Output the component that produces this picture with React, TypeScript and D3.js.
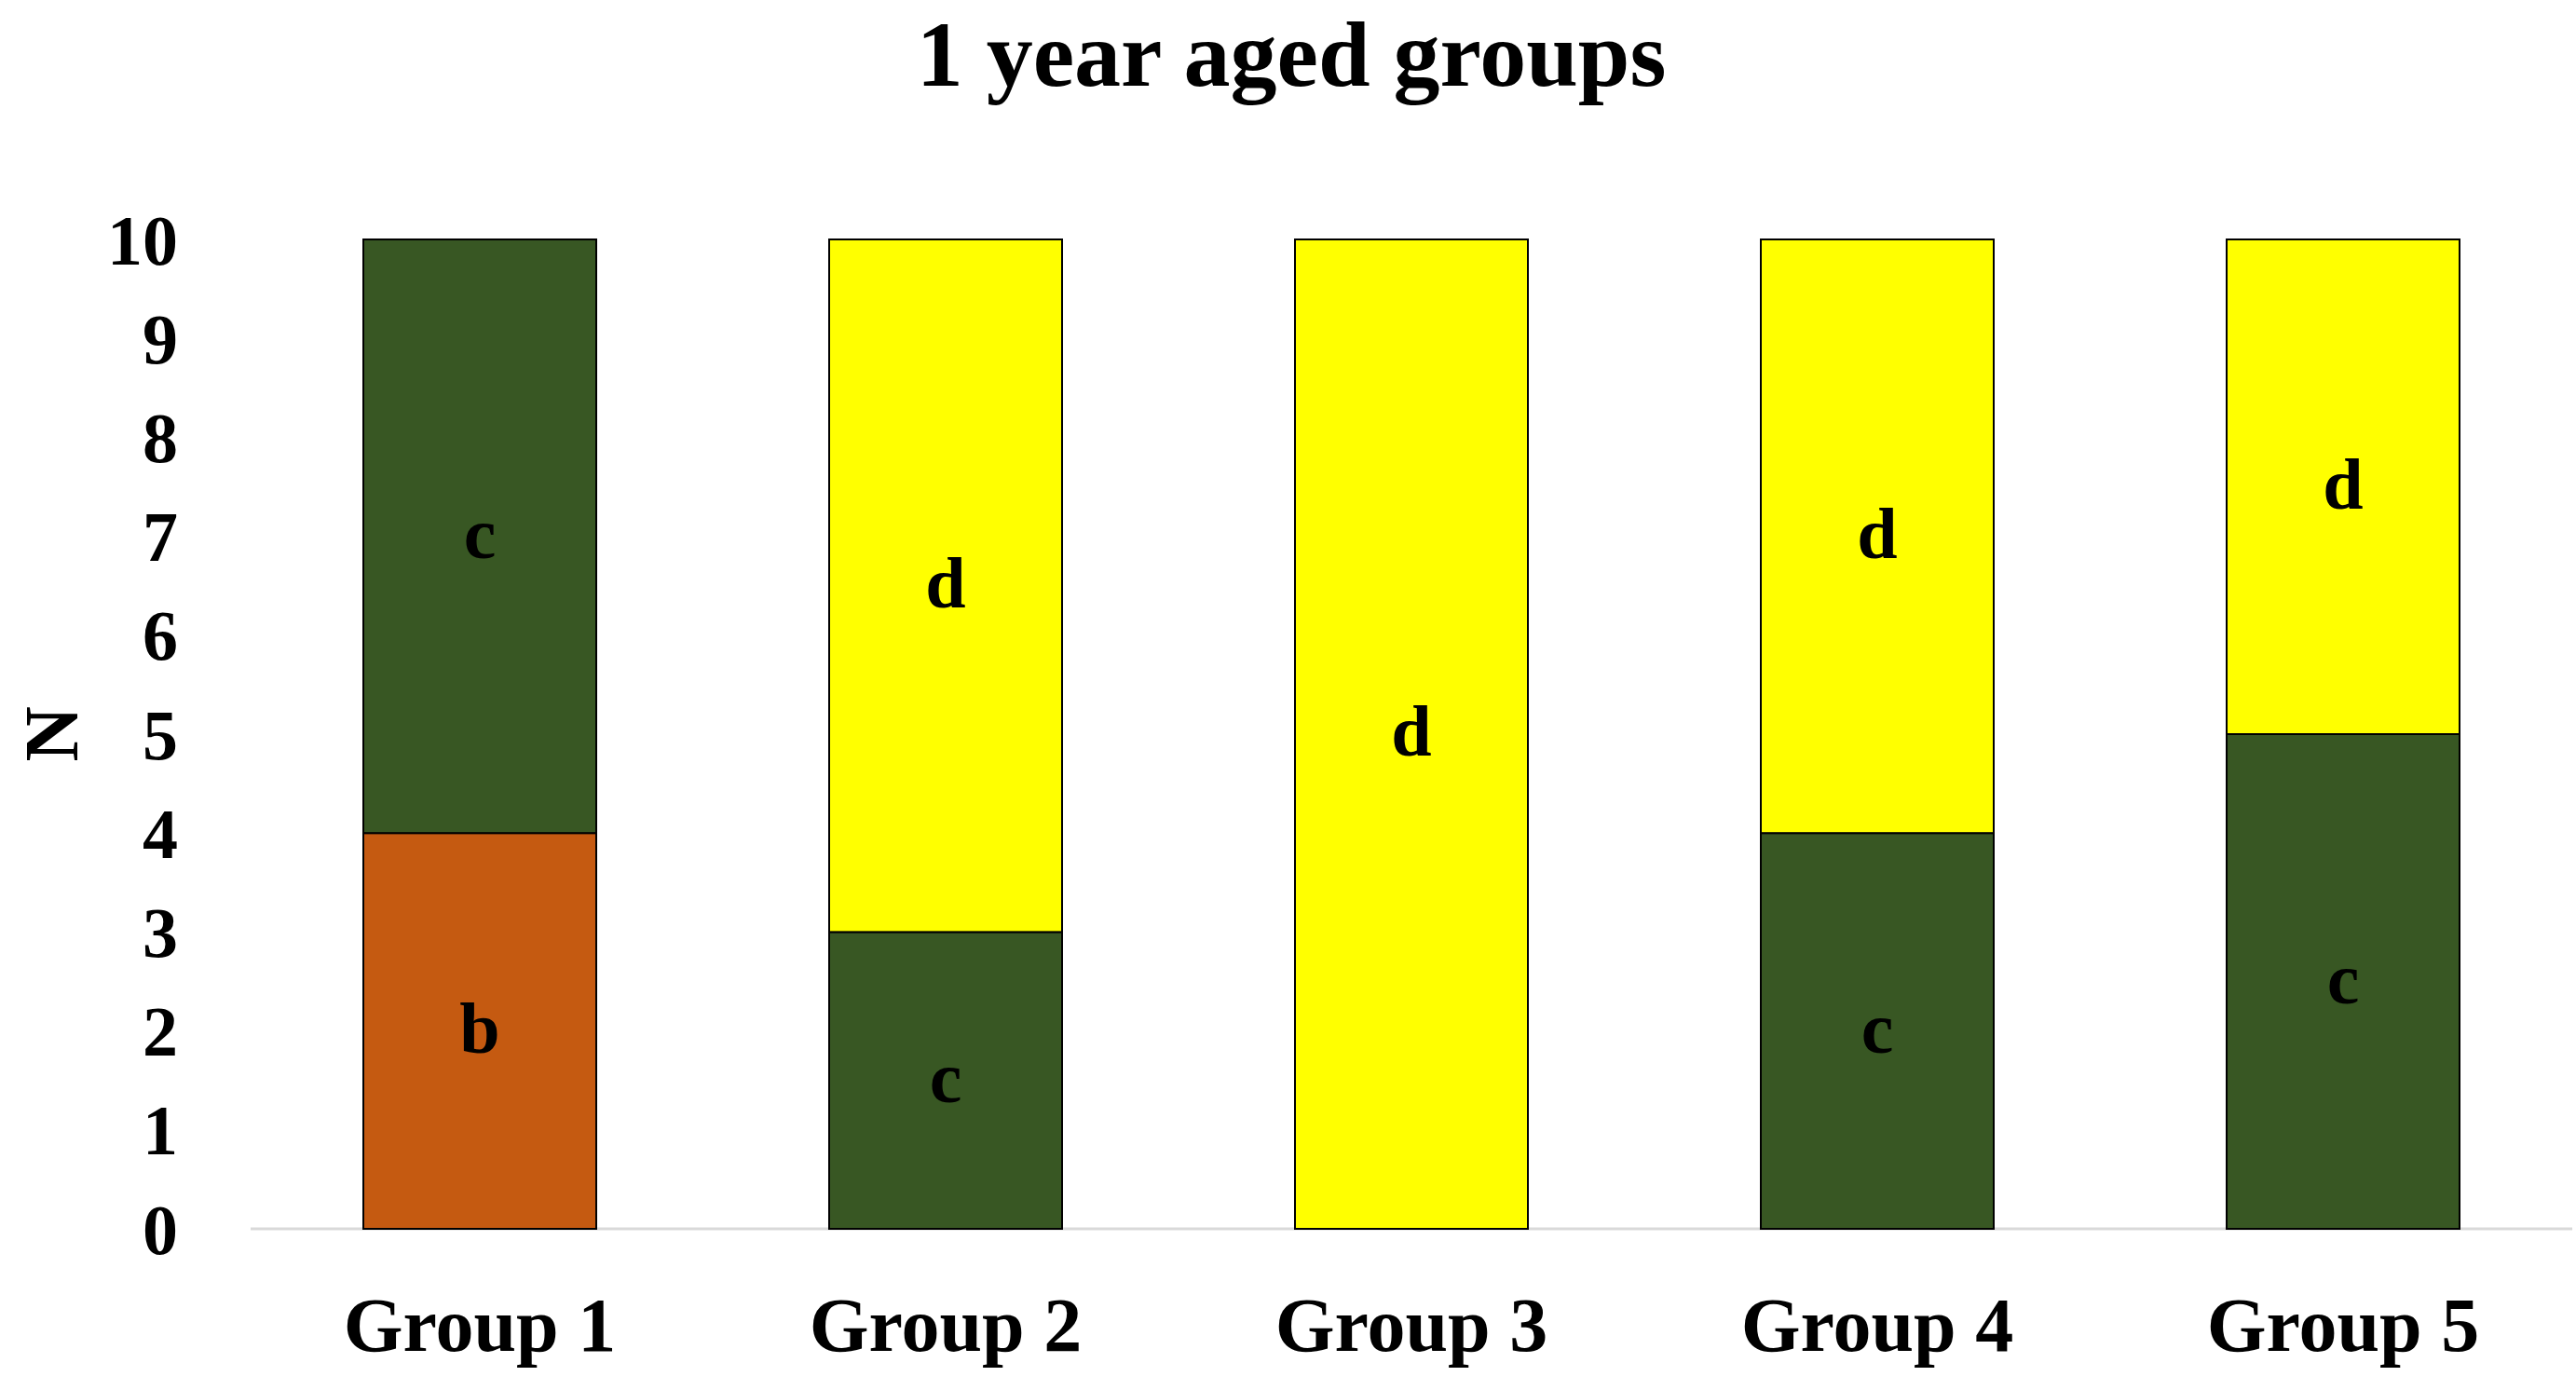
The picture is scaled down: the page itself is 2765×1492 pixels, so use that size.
import React from "react";
import * as d3 from "d3";

const categories = ["Group 1", "Group 2", "Group 3", "Group 4", "Group 5"];
const seriesNames = ["b", "c", "d"];
const seriesB = [4, 0, 0, 0, 0];
const seriesC = [6, 3, 0, 4, 5];
const seriesD = [0, 7, 10, 6, 5];
const seriesColors = ["#C55A11", "#385723", "#FFFF00"];
const yTicks = [0, 1, 2, 3, 4, 5, 6, 7, 8, 9, 10];
const titleText = "1 year aged groups";
const yLabel = "N";

const W = 2765;
const H = 1492;
const FONT = "'Liberation Serif', 'Times New Roman', serif";

export default function App() {
  const rows = categories.map((cat, i) => ({
    cat,
    b: seriesB[i],
    c: seriesC[i],
    d: seriesD[i],
  }));
  const stack = d3.stack<any>().keys(seriesNames);
  const layers = stack(rows);

  const x = d3.scaleBand<string>().domain(categories).range([265, 2765]).paddingInner(0.5).paddingOuter(0.25);
  const y = d3.scaleLinear().domain([0, 10]).range([1319, 257]);

  return (
    <div style={{ position: "absolute", left: 0, top: 0 }}>
      <svg width={W} height={H} style={{ display: "block", background: "#fff" }}>
        <text x={1386} y={92} textAnchor="middle" fontFamily={FONT} fontWeight="bold" fontSize={100} fill="#000">
          {titleText}
        </text>

        <line x1={269} x2={2761} y1={y(0)} y2={y(0)} stroke="#D9D9D9" strokeWidth={3} />

        {yTicks.map((t) => (
          <text key={t} x={191} y={y(t)} dy="0.35em" textAnchor="end" fontFamily={FONT} fontWeight="bold" fontSize={76} fill="#000">
            {t}
          </text>
        ))}

        <text
          transform={`translate(54,${y(5)}) rotate(-90)`}
          textAnchor="middle"
          dy="0.35em"
          fontFamily={FONT}
          fontWeight="bold"
          fontSize={82}
          fill="#000"
        >
          {yLabel}
        </text>

        {layers.map((layer, li) => (
          <g key={layer.key}>
            {layer.map((seg, i) => {
              const v = seg[1] - seg[0];
              if (v <= 0) return null;
              const x0 = x(categories[i])!;
              return (
                <g key={i}>
                  <rect
                    x={x0}
                    y={y(seg[1])}
                    width={x.bandwidth()}
                    height={y(seg[0]) - y(seg[1])}
                    fill={seriesColors[li]}
                    stroke="#000"
                    strokeWidth={2}
                  />
                  <text
                    x={x0 + x.bandwidth() / 2}
                    y={y((seg[0] + seg[1]) / 2)}
                    dy="0.3em"
                    textAnchor="middle"
                    fontFamily={FONT}
                    fontWeight="bold"
                    fontSize={78}
                    fill="#000"
                  >
                    {layer.key}
                  </text>
                </g>
              );
            })}
          </g>
        ))}

        {categories.map((c) => (
          <text
            key={c}
            x={x(c)! + x.bandwidth() / 2}
            y={1450}
            textAnchor="middle"
            fontFamily={FONT}
            fontWeight="bold"
            fontSize={82}
            fill="#000"
          >
            {c}
          </text>
        ))}
      </svg>
    </div>
  );
}
